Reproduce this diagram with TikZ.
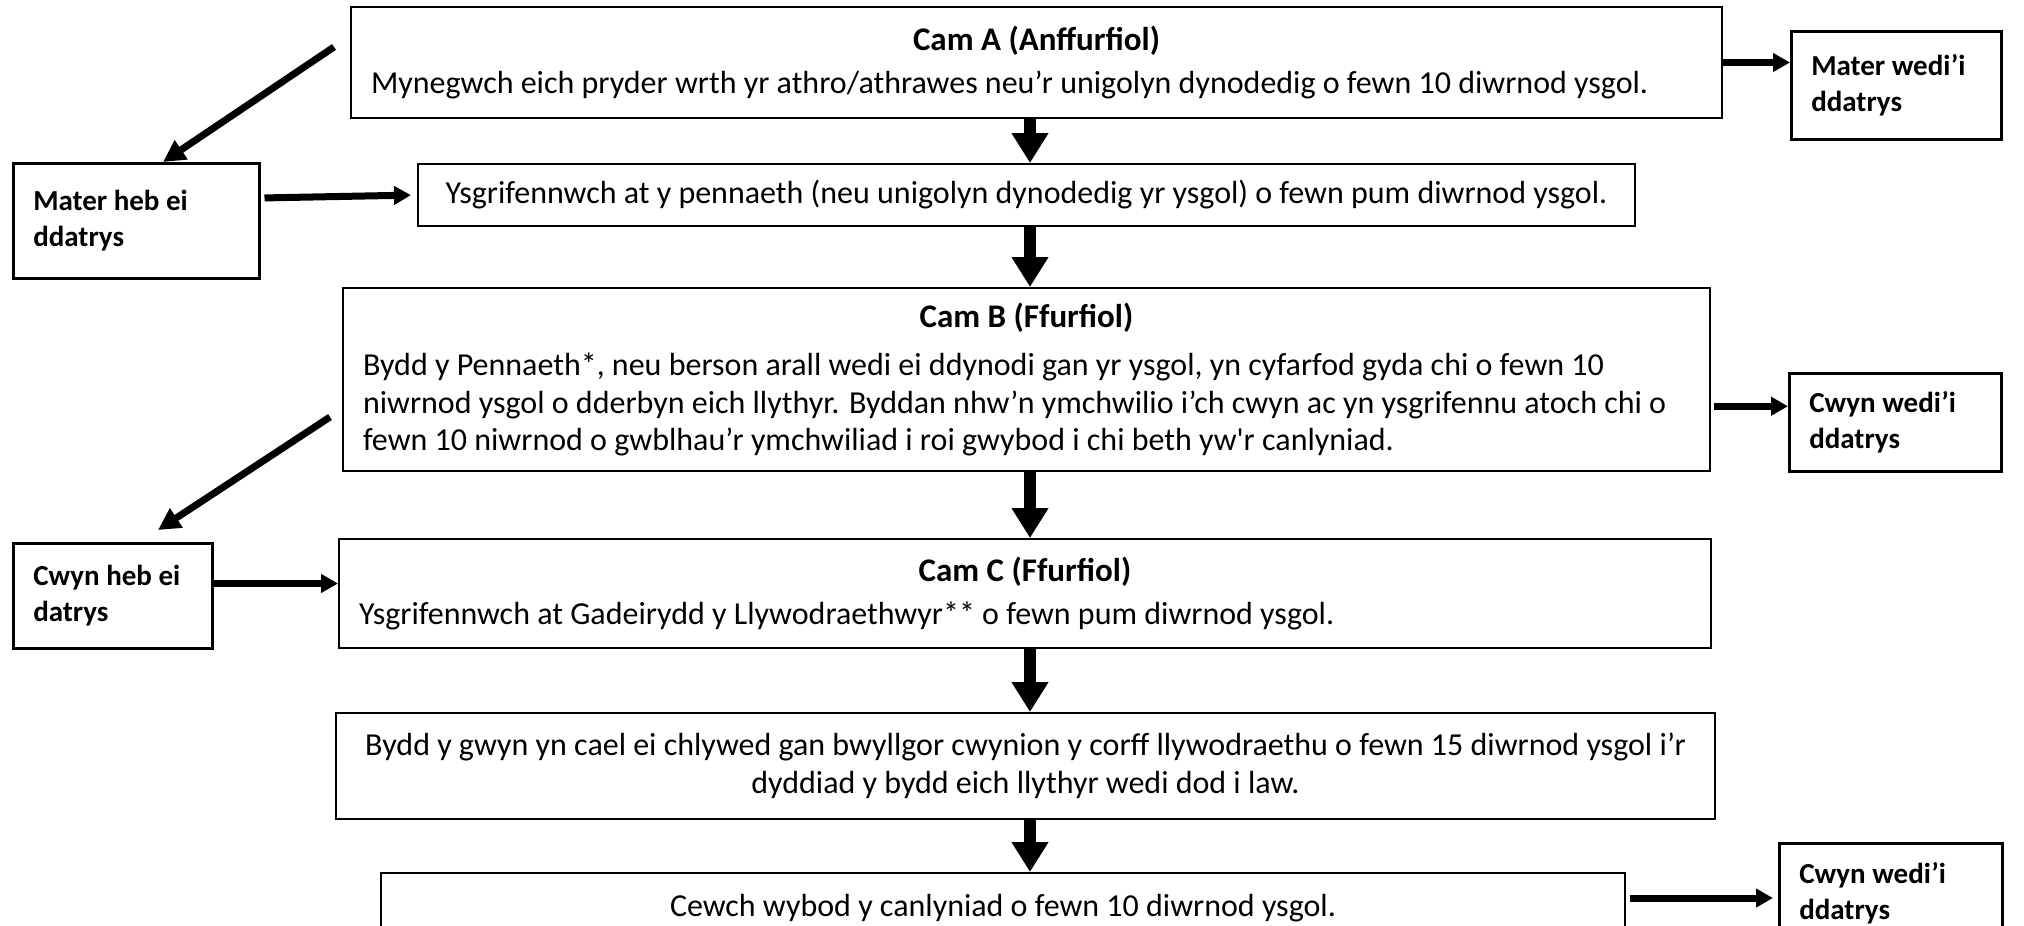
\documentclass[tikz,border=0pt]{standalone}
\usepackage{fontspec}
\setmainfont{Carlito}
\usepackage{tikz}
\usetikzlibrary{calc, positioning, arrows.meta}
\tikzset{
    stage/.style={rectangle, draw=black, line width=2pt, fill=white, anchor=north west, inner xsep=20pt, inner ysep=0pt, align=flush center, font=\fontsize{32}{37.5}\selectfont},
    leftstage/.style={stage, align=flush left},
    outcome/.style={rectangle, draw=black, line width=2.5pt, fill=white, anchor=north west, align=flush left, inner xsep=20pt, font=\fontsize{29}{36}\selectfont\bfseries},
    flow/.style={-{Triangle[length=30pt, width=35pt]}, line width=12pt},
    sidearrow/.style={-{Triangle[length=17pt, width=18pt]}, line width=7pt},
    backarrow/.style={-{Triangle[length=22pt, width=22pt]}, line width=7pt}
}
\newcommand{\titlefont}{\fontsize{33}{38}\selectfont\bfseries}
\newcommand{\camtitle}[2][6pt]{\hbox to\hsize{\hss\titlefont #2\hss}\\[#1]}

\begin{document}
\begin{tikzpicture}[x=1pt, y=-1pt]
    \useasboundingbox (0,0) rectangle (2024,926);

    % Main stages
    \node[leftstage, minimum width=1371pt, minimum height=111pt, text width=1331pt] (camA) at (350,6)
        {\camtitle[5pt]{Cam A (Anffurfiol)}Mynegwch eich pryder wrth yr athro/athrawes neu’r unigolyn dynodedig o fewn 10 diwrnod ysgol.};
    \node[stage, minimum width=1217pt, minimum height=62pt] (write) at (417,163)
        {Ysgrifennwch at y pennaeth (neu unigolyn dynodedig yr ysgol) o fewn pum diwrnod ysgol.};
    \node[leftstage, minimum width=1367pt, minimum height=183pt, text width=1327pt] (camB) at (342,287)
        {\camtitle[11pt]{Cam B (Ffurfiol)}Bydd y Pennaeth*, neu berson arall wedi ei ddynodi gan yr ysgol, yn cyfarfod gyda chi o fewn 10\\
        niwrnod ysgol o dderbyn eich llythyr. Byddan nhw’n ymchwilio i’ch cwyn ac yn ysgrifennu atoch chi o\\
        fewn 10 niwrnod o gwblhau’r ymchwiliad i roi gwybod i chi beth yw\textquotesingle r canlyniad.};
    \node[leftstage, minimum width=1372pt, minimum height=109pt, text width=1332pt] (camC) at (338,538)
        {\camtitle{Cam C (Ffurfiol)}Ysgrifennwch at Gadeirydd y Llywodraethwyr** o fewn pum diwrnod ysgol.};
    \node[stage, minimum width=1379pt, minimum height=106pt] (hearing) at (335,712)
        {Bydd y gwyn yn cael ei chlywed gan bwyllgor cwynion y corff llywodraethu o fewn 15 diwrnod ysgol i’r\\
        dyddiad y bydd eich llythyr wedi dod i law.};
    \node[stage, minimum width=1244pt, minimum height=70pt] (result) at (380,872)
        {Cewch wybod y canlyniad o fewn 10 diwrnod ysgol.};

    % Outcomes
    \node[outcome, minimum width=210pt, minimum height=108pt, text width=170pt] (solvedA) at (1790,30) {Mater wedi’i\\ddatrys};
    \node[outcome, minimum width=212pt, minimum height=98pt, text width=172pt] (solvedB) at (1788,372) {Cwyn wedi’i\\ddatrys};
    \node[outcome, minimum width=223pt, minimum height=100pt, text width=183pt] (solvedE) at (1778,842) {Cwyn wedi’i\\ddatrys};
    \node[outcome, minimum width=246pt, minimum height=115pt, text width=206pt] (openA) at (12,162) {Mater heb ei\\ddatrys};
    \node[outcome, minimum width=199pt, minimum height=105pt, text width=159pt] (openB) at (12,542) {Cwyn heb ei\\datrys};

    % Down the middle
    \coordinate (axis) at (1030,0);
    \draw[flow] (axis |- camA.south) -- (axis |- write.north);
    \draw[flow] (axis |- write.south) -- (axis |- camB.north);
    \draw[flow] (axis |- camB.south) -- (axis |- camC.north);
    \draw[flow] (axis |- camC.south) -- (axis |- hearing.north);
    \draw[flow] (axis |- hearing.south) -- (axis |- result.north);

    % To the right
    \draw[sidearrow] (camA.east) -- (camA.east -| solvedA.west);
    \draw[sidearrow, shorten <=3pt] ([yshift=16pt]solvedB.west -| camB.east) -- ([yshift=16pt]solvedB.west);
    \draw[sidearrow, shorten <=4pt, shorten >=5pt] ([yshift=10pt]result.east) -- ([yshift=10pt]result.east -| solvedE.west);

    % Back into the flow
    \coordinate (fromA) at (334,47);
    \coordinate (fromB) at (330,417);
    \draw[backarrow] (fromA) -- ([xshift=151pt]openA.north west);
    \draw[backarrow] (fromB) -- ([xshift=146pt, yshift=12pt]openB.north west);
    \draw[sidearrow, shorten <=4pt, shorten >=6pt] ([yshift=-3pt]openA.east |- write.west) -- (write.west);
    \draw[sidearrow] ([yshift=10pt]camC.west -| openB.east) -- ([yshift=10pt]camC.west);
\end{tikzpicture}
\end{document}
